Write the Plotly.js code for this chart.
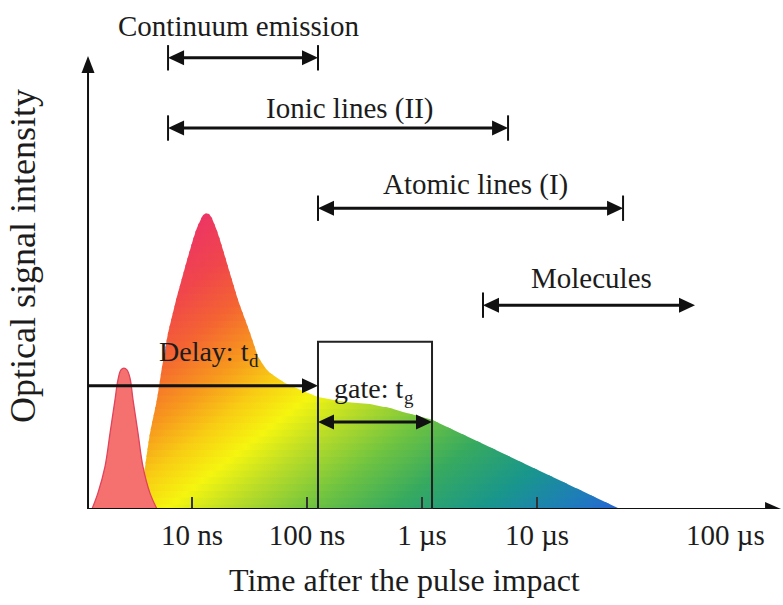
<!DOCTYPE html>
<html><head><meta charset="utf-8">
<script src="https://cdn.plot.ly/plotly-3.0.1.min.js"></script>
<style>html,body{margin:0;padding:0;background:#fff}#chart{width:783px;height:605px}</style>
</head><body><div id="chart"></div>
<script>
// ---- data (time in ns, intensity in arbitrary units) ----
const emissionTime = [3.39,3.68,3.90,4.31,4.96,5.49,6.19,7.26,8.70,10.6,11.7,12.5,13.2,14.1,14.9,16.8,20.6,25.1,31.9,37.5,42.3,47.7,64.4,87.0,124.6,214,353,527,684,1222,52700];
const emissionIntensity = [0,3.5,9.3,16.8,24.1,31.4,38.9,46.1,53.4,60.9,63.6,64.9,65.3,65.1,64.2,60.9,53.4,46.1,38.9,33.6,31.4,30.0,27.8,26.3,24.7,23.6,23.2,22.3,21.4,19.7,0];
const pulseTime = [1.35,1.52,1.75,1.94,2.14,2.27,2.41,2.56,2.72,2.89,3.07,3.39,3.75,4.31,4.96];
const pulseIntensity = [0,3.5,9.3,16.8,24.1,28.5,30.7,31.1,30.7,28.9,24.1,16.8,9.3,3.5,0];
const tickTimes = [10,100,1000,10000];
const tickLabels = ['10 ns','100 ns','1 µs','10 µs'];
const lastTickLabel = '100 µs';
const spanLabels = ['Continuum emission','Ionic lines (II)','Atomic lines (I)','Molecules'];
const spanStart = [6.19,6.19,124.6,3390];
const spanEnd = [124.6,5600,56000,236600];
const timeOrigin = 1.247;
const delayLabel = ['Delay: t','d'];
const delayEnd = 124.6;
const gateLabel = ['gate: t','g'];
const gateStart = 124.6;
const gateEnd = 1222;
const xTitle = 'Time after the pulse impact';
const yTitle = 'Optical signal intensity';

// ---- layout helpers (positions / styles) ----
const L = Math.log10;
const FONT = 'Liberation Serif, Times New Roman, serif';
const INK = '#1c1c1c';
const XR = [-0.6695, 6.139], YR = [0, 112.36];
const PXV = 783/(XR[1]-XR[0]), PXI = 509/(YR[1]-YR[0]);
const spanLevel = [99.6,84.1,66.4,45.0];
const spanBars = [[true,true],[true,true],[true,true],[true,false]];
const spanLabelPos = [[1.400,106.6],[2.374,88.5],[3.461,71.7],[4.470,51.0]];

function clip(poly, inside, yc){
  const out=[];
  for(let i=0;i<poly.length;i++){
    const a=poly[(i+poly.length-1)%poly.length], b=poly[i];
    const ai=inside(a), bi=inside(b);
    const cross=()=>{const t=(yc-a[1])/(b[1]-a[1]);return [a[0]+t*(b[0]-a[0]),yc];};
    if(bi){ if(!ai) out.push(cross()); out.push(b); }
    else if(ai) out.push(cross());
  }
  return out;
}

const cs = [
  [0.000,'rgb(236,50,105)'],
  [0.113,'rgb(240,70,75)'],
  [0.197,'rgb(244,100,50)'],
  [0.282,'rgb(247,150,30)'],
  [0.359,'rgb(248,205,20)'],
  [0.430,'rgb(245,245,15)'],
  [0.507,'rgb(185,220,40)'],
  [0.606,'rgb(110,195,65)'],
  [0.704,'rgb(55,170,95)'],
  [0.817,'rgb(25,150,140)'],
  [0.915,'rgb(30,125,185)'],
  [1.000,'rgb(40,95,220)']
];
const sMin=-2.3, sMax=4.8, slope=0.05;

const traces=[];
const poly = emissionTime.map((t,i)=>[L(t), emissionIntensity[i]]);
const maxI = Math.max(...emissionIntensity);
const bandH = 1.5, ov = 0.5;
for(let y0=0; y0<maxI; y0+=bandH){
  const lo = y0>0 ? y0-ov : 0, hi = y0+bandH;
  let p = clip(poly, q=>q[1]>=lo, lo);
  p = clip(p, q=>q[1]<=hi, hi);
  if(p.length<3) continue;
  const yc = y0+bandH/2;
  traces.push({
    type:'scatter', mode:'lines', x:p.map(q=>q[0]), y:p.map(q=>q[1]),
    fill:'toself', line:{width:0}, hoverinfo:'skip', showlegend:false,
    fillgradient:{type:'horizontal', colorscale:cs, start:sMin+slope*yc, stop:sMax+slope*yc}
  });
}
traces.push({
  type:'scatter', mode:'lines', x:pulseTime.map(L), y:pulseIntensity,
  fill:'toself', fillcolor:'#f4716f', line:{color:'#e0435a', width:1.3, shape:'spline'},
  hoverinfo:'skip', showlegend:false
});

const shapes=[];
const ann=[];
const AC='#111';
function head(path){ shapes.push({type:'path',xref:'x',yref:'y',path:path,fillcolor:AC,line:{width:0},layer:'above'}); }
function hArrow(xa,xb,y,ha,hb,w,hlp,hwp){
  const dl=hlp/PXV, dw=hwp/PXI;
  const x0 = ha ? xa+dl*0.8 : xa, x1 = hb ? xb-dl*0.8 : xb;
  shapes.push({type:'line',xref:'x',yref:'y',x0:x0,x1:x1,y0:y,y1:y,line:{color:AC,width:w},layer:'above'});
  if(ha) head(`M${xa},${y}L${xa+dl},${y+dw}L${xa+dl},${y-dw}Z`);
  if(hb) head(`M${xb},${y}L${xb-dl},${y+dw}L${xb-dl},${y-dw}Z`);
}
function vArrow(x,ya,yb,w,hlp,hwp){
  const dl=hlp/PXI, dw=hwp/PXV;
  shapes.push({type:'line',xref:'x',yref:'y',x0:x,x1:x,y0:ya,y1:yb-dl*0.8,line:{color:AC,width:w},layer:'above'});
  head(`M${x},${yb}L${x-dw},${yb-dl}L${x+dw},${yb-dl}Z`);
}
function label(text,x,y,size,extra){
  ann.push(Object.assign({x:x,y:y,xref:'x',yref:'y',text:text,showarrow:false,
    font:{family:FONT,size:size,color:INK},xanchor:'center',yanchor:'middle'},extra||{}));
}
// axes
const xOrig = L(timeOrigin);
hArrow(xOrig, 6.122, 0, false, true, 2, 16, 7);
vArrow(xOrig, 0, 100, 2, 17, 6.5);
// spans
spanLabels.forEach((lab,i)=>{
  const a=L(spanStart[i]), b=L(spanEnd[i]), lv=spanLevel[i];
  hArrow(a,b,lv,true,true,3,16,7.5);
  if(spanBars[i][0]) shapes.push({type:'line',xref:'x',yref:'y',x0:a,x1:a,y0:lv-2.8,y1:lv+2.8,line:{color:AC,width:2}});
  if(spanBars[i][1]) shapes.push({type:'line',xref:'x',yref:'y',x0:b,x1:b,y0:lv-2.8,y1:lv+2.8,line:{color:AC,width:2}});
  label(lab, spanLabelPos[i][0], spanLabelPos[i][1], 29);
});
// delay and gate
hArrow(xOrig, L(delayEnd), 27.2, false, true, 3, 16, 7.5);
hArrow(L(gateStart), L(gateEnd), 19.2, true, true, 3, 16, 7.5);
shapes.push({type:'rect',xref:'x',yref:'y',x0:L(gateStart),x1:L(gateEnd),y0:0,y1:36.9,line:{color:'#222',width:2},fillcolor:'rgba(0,0,0,0)',layer:'above'});
label(delayLabel[0],0.6957,34.66,28,{xanchor:'left'});
label(delayLabel[1],1.4783,32.7,19,{xanchor:'left'});
label(gateLabel[0],2.2174,26.7,28,{xanchor:'left'});
label(gateLabel[1],2.826,24.6,19,{xanchor:'left'});
// titles
label(yTitle,-0.4695,55.85,36,{textangle:-90});
label(xTitle,2.852,-0.1395,32,{yref:'paper'});
label(lastTickLabel,5.635,-0.051,29,{yref:'paper'});

const layout={
  width:783,height:605,margin:{l:0,r:0,t:0,b:96},
  paper_bgcolor:'#fff',plot_bgcolor:'#fff',showlegend:false,hovermode:false,
  xaxis:{range:XR,showgrid:false,zeroline:false,showline:false,
    tickmode:'array',tickvals:tickTimes.map(L),ticktext:tickLabels,
    ticks:'inside',ticklen:12,tickwidth:2,tickcolor:'#333',ticklabelstandoff:6,
    tickfont:{family:FONT,size:29,color:INK},fixedrange:true},
  yaxis:{range:YR,visible:false,fixedrange:true},
  shapes:shapes,annotations:ann
};
Plotly.newPlot('chart',traces,layout,{displayModeBar:false,staticPlot:true});
</script></body></html>
